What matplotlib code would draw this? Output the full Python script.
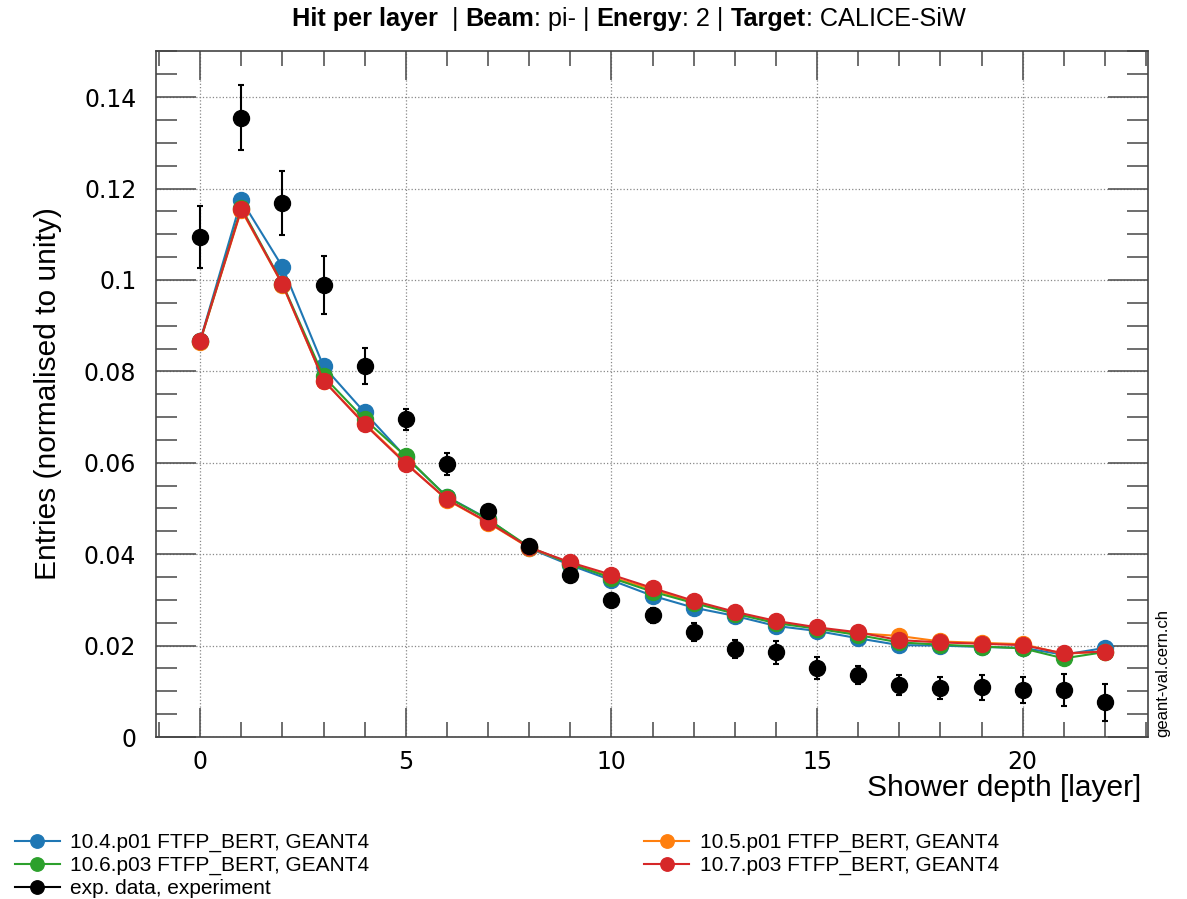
import numpy as np
import matplotlib
matplotlib.use("Agg")
import matplotlib.pyplot as plt
from matplotlib.ticker import MultipleLocator

plt.rcParams['font.family'] = ['Liberation Sans', 'DejaVu Sans']

layers = np.arange(23)

g4_104 = [0.0867, 0.1175, 0.1029, 0.0811, 0.0710, 0.0612, 0.0526, 0.0477, 0.0413, 0.0376,
          0.0343, 0.0309, 0.0283, 0.0265, 0.0243, 0.0232, 0.0216, 0.0201, 0.0200, 0.0197,
          0.0195, 0.0180, 0.0195]
g4_105 = [0.0865, 0.1153, 0.0990, 0.0780, 0.0686, 0.0600, 0.0519, 0.0469, 0.0414, 0.0380,
          0.0350, 0.0323, 0.0295, 0.0272, 0.0252, 0.0238, 0.0227, 0.0221, 0.0209, 0.0206,
          0.0203, 0.0182, 0.0187]
g4_106 = [0.0866, 0.1158, 0.0992, 0.0789, 0.0695, 0.0614, 0.0525, 0.0476, 0.0416, 0.0379,
          0.0348, 0.0318, 0.0293, 0.0270, 0.0249, 0.0237, 0.0223, 0.0207, 0.0202, 0.0198,
          0.0194, 0.0172, 0.0186]
g4_107 = [0.0867, 0.1155, 0.0991, 0.0780, 0.0684, 0.0598, 0.0520, 0.0470, 0.0415, 0.0382,
          0.0355, 0.0326, 0.0298, 0.0274, 0.0254, 0.0240, 0.0229, 0.0212, 0.0207, 0.0204,
          0.0201, 0.0183, 0.0187]
exp_data = [0.1094, 0.1355, 0.1168, 0.0989, 0.0812, 0.0695, 0.0598, 0.0494, 0.0417, 0.0354,
            0.0299, 0.0266, 0.0229, 0.0192, 0.0185, 0.0151, 0.0135, 0.0114, 0.0107, 0.0109,
            0.0103, 0.0103, 0.0076]
exp_err = [0.0068, 0.0071, 0.0070, 0.0063, 0.0040, 0.0023, 0.0024, 0.0012, 0.0008, 0.0008,
           0.0010, 0.0017, 0.0020, 0.0020, 0.0025, 0.0025, 0.0020, 0.0022, 0.0024, 0.0027,
           0.0028, 0.0035, 0.0040]

series = [
    ("10.4.p01 FTFP_BERT, GEANT4", g4_104, "#1f77b4"),
    ("10.5.p01 FTFP_BERT, GEANT4", g4_105, "#ff7f0e"),
    ("10.6.p03 FTFP_BERT, GEANT4", g4_106, "#2ca02c"),
    ("10.7.p03 FTFP_BERT, GEANT4", g4_107, "#d62728"),
]
ytick_vals = [0, 0.02, 0.04, 0.06, 0.08, 0.1, 0.12, 0.14]
ytick_labels = ["0", "0.02", "0.04", "0.06", "0.08", "0.1", "0.12", "0.14"]

fig = plt.figure(figsize=(11.87, 8.99), dpi=100)
ax = fig.add_axes([0.1312, 0.1802, 0.8357, 0.7631])

handles = {}
for label, vals, col in series:
    h, = ax.plot(layers, vals, '-o', color=col, lw=1.5, ms=11.5, label=label, zorder=3)
    handles[label] = h

ax.errorbar(layers, exp_data, yerr=exp_err, fmt='o', color='black', ms=11.5,
            elinewidth=1.5, capsize=2.5, capthick=1.5, zorder=4)
h_exp, = ax.plot([], [], '-o', color='black', lw=1.5, ms=11.5, label="exp. data, experiment")

ax.set_xlim(-1.08, 23.04)
ax.set_ylim(0, 0.1501)

ax.xaxis.set_major_locator(MultipleLocator(5))
ax.xaxis.set_minor_locator(MultipleLocator(1))
ax.yaxis.set_minor_locator(MultipleLocator(0.005))
ax.set_yticks(ytick_vals)
ax.set_yticklabels(ytick_labels)
for lab in ax.get_xticklabels() + ax.get_yticklabels():
    lab.set_fontfamily('DejaVu Sans')

ax.tick_params(axis='both', which='both', direction='in', top=True, right=True,
               labelsize=17, color='#555555')
ax.tick_params(axis='x', which='major', length=21, width=1.2, pad=9)
ax.tick_params(axis='x', which='minor', length=11, width=1.2)
ax.tick_params(axis='y', which='major', length=29, width=1.2, pad=14)
ax.tick_params(axis='y', which='minor', length=15, width=1.2)

ax.grid(True, which='major', linestyle=':', color='#888888', lw=0.9)
for s in ax.spines.values():
    s.set_color('#444444')
    s.set_linewidth(1.2)

ax.set_xlabel("Shower depth [layer]", fontsize=21.5, loc='right', labelpad=0)
ax.xaxis.label.set_position((0.993, 0))
ax.set_ylabel("Entries (normalised to unity)", fontsize=21.5, loc='center', labelpad=16)

# title with bold / normal parts
parts = [("Hit per layer ", 'bold'), (" | ", 'normal'), ("Beam", 'bold'), (": pi- | ", 'normal'),
         ("Energy", 'bold'), (": 2 | ", 'normal'), ("Target", 'bold'), (": CALICE-SiW", 'normal')]
t = fig.text(292 / 1187, 1 - 26 / 899, parts[0][0], fontsize=18.2, fontweight=parts[0][1],
             va='baseline')
for txt, w in parts[1:]:
    t = ax.annotate(txt, xy=(1, 0), xycoords=t, fontsize=18.2, fontweight=w,
                    va='bottom', ha='left', annotation_clip=False)

fig.text(1163 / 1187, 1 - 737 / 899, "geant-val.cern.ch", rotation=90, fontsize=12,
         ha='center', va='bottom')

leg_h = [handles["10.4.p01 FTFP_BERT, GEANT4"], handles["10.6.p03 FTFP_BERT, GEANT4"], h_exp,
         handles["10.5.p01 FTFP_BERT, GEANT4"], handles["10.7.p03 FTFP_BERT, GEANT4"]]
leg_l = [h.get_label() for h in leg_h]
fig.legend(leg_h, leg_l, loc='upper left', bbox_to_anchor=(15 / 1187, 1 - 833 / 899), ncol=2,
           frameon=False, fontsize=15, handlelength=2.15, handletextpad=0.5,
           columnspacing=13.2, labelspacing=0.19, markerscale=0.84, borderaxespad=0,
           borderpad=0)

fig.savefig("out.png", dpi=100)
